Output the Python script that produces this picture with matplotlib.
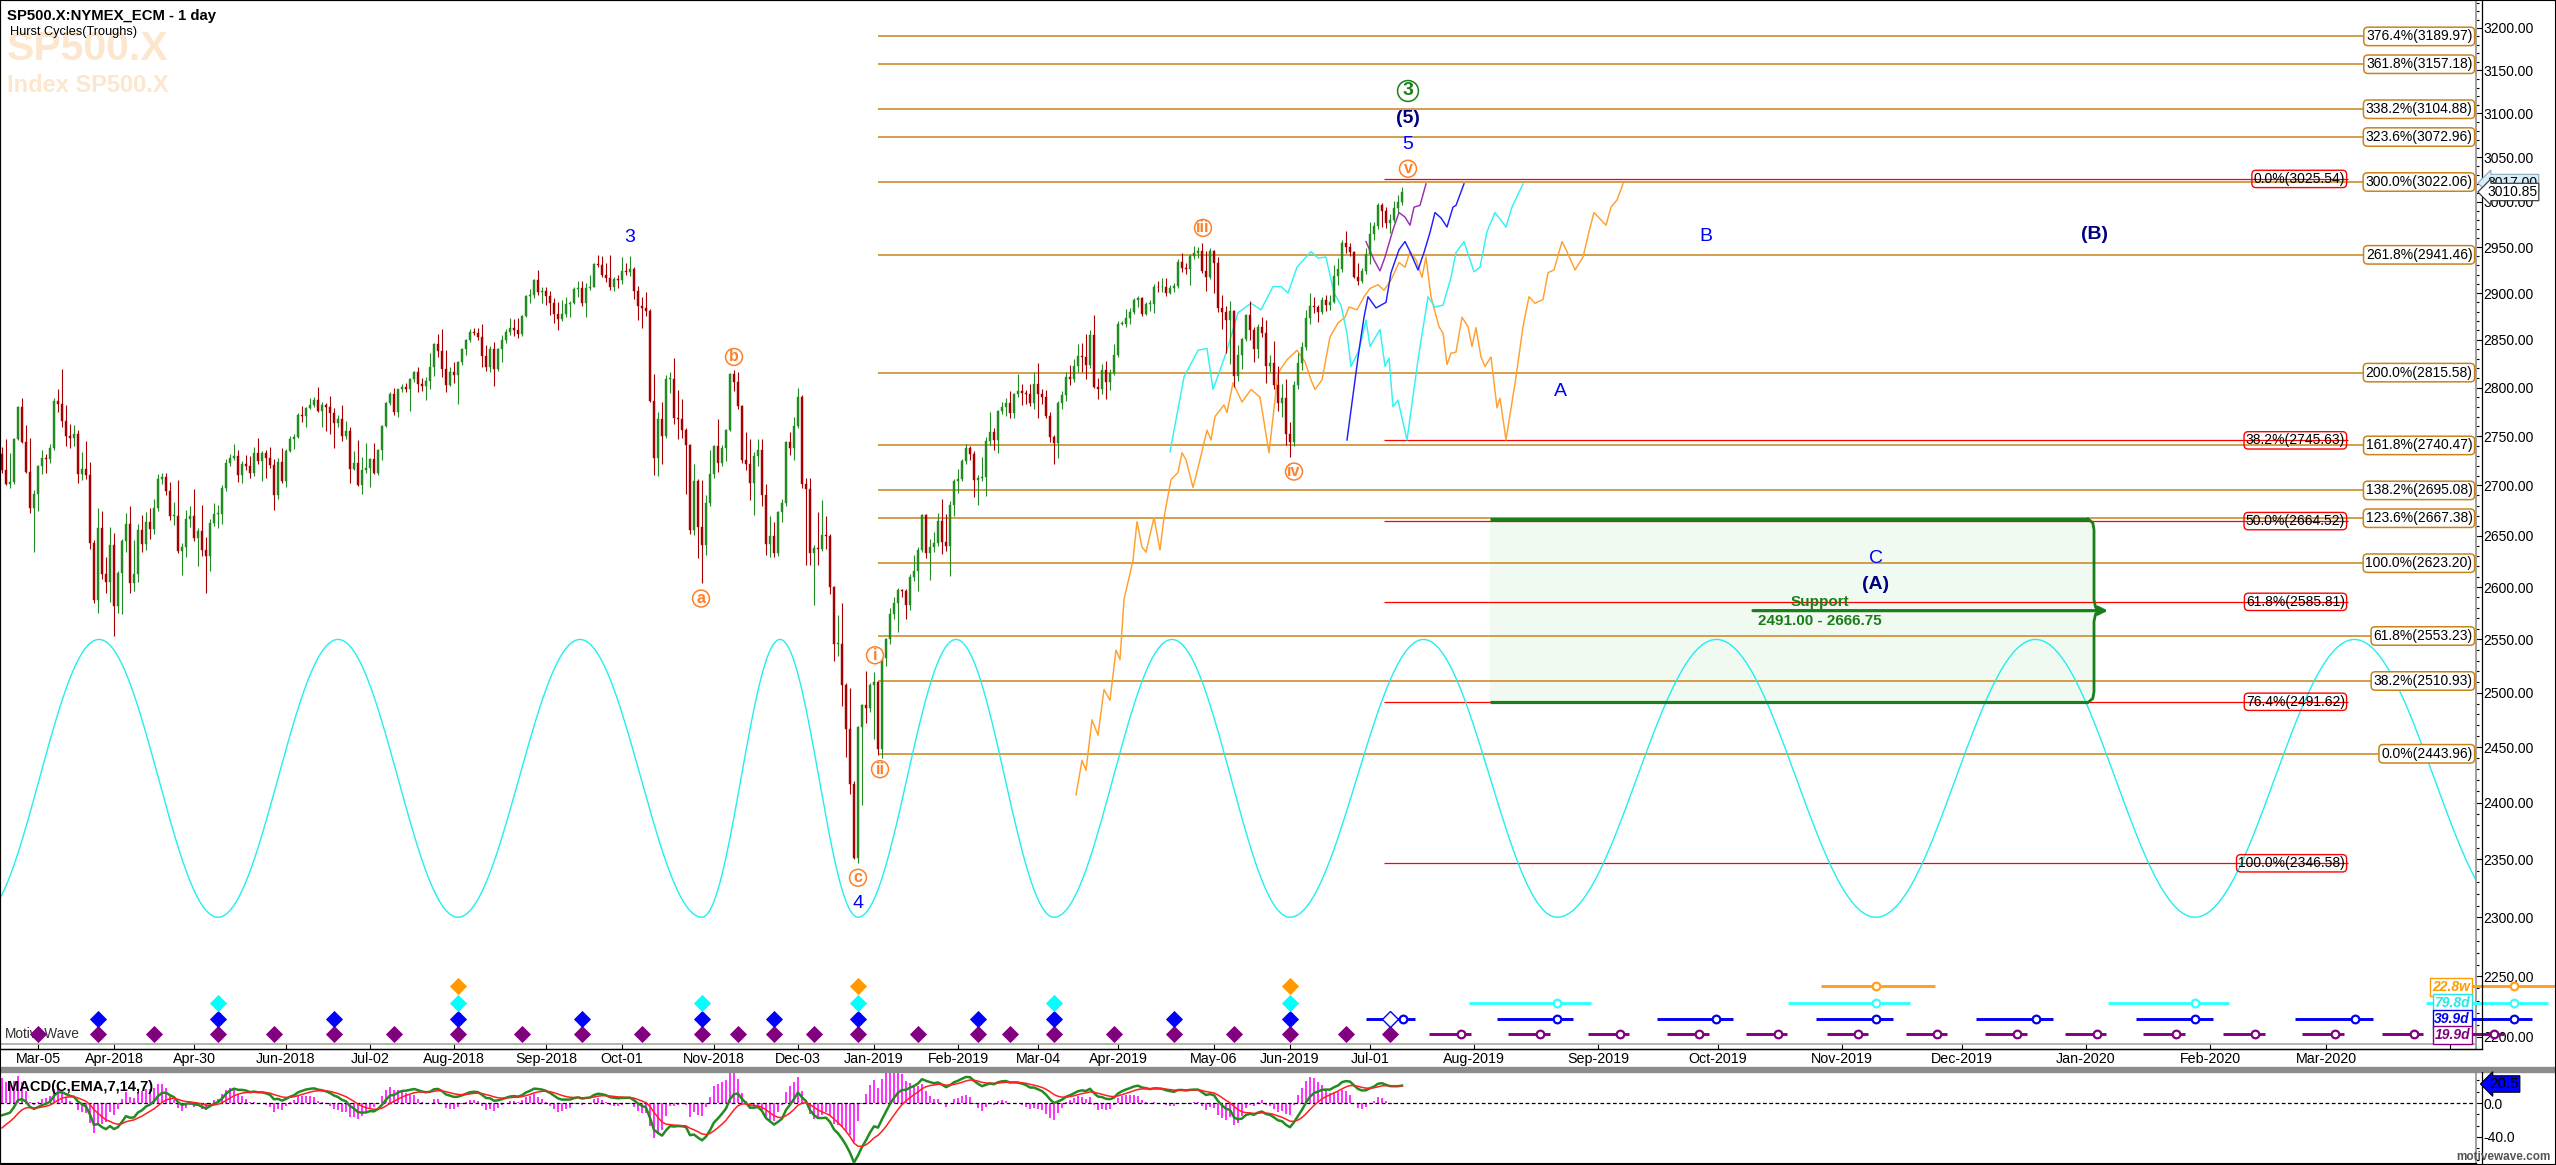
import numpy as np
import pandas as pd
import matplotlib
matplotlib.use("Agg")
import matplotlib.pyplot as plt
from matplotlib import font_manager
from matplotlib.patches import Rectangle
from matplotlib.lines import Line2D
from matplotlib.ticker import FixedLocator, FuncFormatter, NullFormatter
import matplotlib.transforms as mtrans

names = {f.name for f in font_manager.fontManager.ttflist}
BASE = 'Liberation Sans' if 'Liberation Sans' in names else 'DejaVu Sans'
NARROW = 'Liberation Sans Narrow' if 'Liberation Sans Narrow' in names else BASE
plt.rcParams['font.family'] = BASE

# ---------------- data ----------------
holidays = ['2018-03-30', '2018-05-28', '2018-07-04', '2018-09-03', '2018-11-22', '2018-12-05',
            '2018-12-25', '2019-01-01', '2019-01-21', '2019-02-18', '2019-04-19', '2019-05-27',
            '2019-07-04']
first_open = 2732
warmup_closes = [2872, 2853, 2822, 2824, 2822, 2762, 2649, 2695, 2682, 2581, 2620, 2656, 2662, 2698, 2731, 2732]

closes = [
    2716, 2701, 2703, 2747, 2780, 2744, 2714,
    2678, 2691, 2720, 2728, 2727, 2738, 2786, 2783, 2765, 2750, 2748, 2752, 2712, 2717, 2711, 2643, 2588, 2658, 2613, 2605, 2641,
    2582, 2614, 2645, 2662, 2604, 2613, 2656, 2642, 2664, 2657, 2678, 2707, 2709, 2694, 2670, 2670, 2635, 2639, 2667, 2670, 2648,
    2655, 2636, 2630, 2663, 2672, 2672, 2697, 2723, 2728, 2730, 2711, 2722, 2720, 2713, 2733, 2725, 2733, 2728, 2721, 2690, 2724, 2705,
    2735, 2747, 2749, 2772, 2771, 2779, 2782, 2787, 2776, 2782, 2780, 2774, 2763, 2767, 2750, 2755, 2717, 2723, 2700, 2716, 2718,
    2727, 2713, 2736, 2760, 2784, 2793, 2775, 2798, 2801, 2798, 2809, 2816, 2804, 2802, 2807, 2821, 2846, 2838, 2819, 2803, 2816,
    2813, 2827, 2840, 2850, 2858, 2857, 2853, 2833, 2821, 2840, 2819, 2840, 2850, 2858, 2863, 2861, 2856, 2875, 2897, 2898, 2914, 2901, 2902,
    2897, 2889, 2878, 2872, 2878, 2888, 2889, 2904, 2905, 2889, 2905, 2907, 2931, 2930, 2920, 2916, 2906, 2915, 2914,
    2924, 2923, 2926, 2902, 2886, 2884, 2881, 2786, 2728, 2767, 2750, 2809, 2809, 2769, 2768, 2756, 2741, 2656, 2705, 2659, 2641, 2682, 2712,
    2740, 2723, 2738, 2756, 2814, 2806, 2781, 2726, 2722, 2702, 2730, 2736, 2690, 2642, 2650, 2633, 2674, 2682, 2744, 2738, 2760,
    2790, 2701, 2696, 2633, 2638, 2637, 2651, 2650, 2600, 2546, 2546, 2507, 2467, 2417, 2351, 2468, 2489, 2486, 2507,
    2510, 2448, 2532, 2550, 2574, 2585, 2597, 2596, 2583, 2610, 2616, 2636, 2671, 2633, 2639, 2643, 2665, 2644, 2640, 2681, 2704,
    2707, 2725, 2738, 2732, 2706, 2708, 2709, 2745, 2754, 2746, 2776, 2780, 2784, 2774, 2793, 2796, 2794, 2793, 2784,
    2804, 2793, 2790, 2771, 2749, 2743, 2784, 2792, 2811, 2809, 2822, 2833, 2832, 2824, 2855, 2801, 2798, 2818, 2806, 2815, 2834,
    2867, 2867, 2873, 2880, 2893, 2895, 2878, 2888, 2888, 2907, 2906, 2907, 2900, 2905, 2908, 2934, 2927, 2926, 2940, 2943, 2946,
    2924, 2917, 2946, 2932, 2884, 2880, 2871, 2881, 2812, 2834, 2851, 2876, 2860, 2840, 2864, 2857, 2822, 2826, 2803, 2784, 2789, 2752,
    2744, 2803, 2826, 2843, 2873, 2886, 2885, 2880, 2892, 2887, 2890, 2918, 2926, 2954, 2950, 2945, 2917, 2913, 2924, 2942,
    2964, 2973, 2996, 2990, 2976, 2980, 2993, 3000, 3010.85,
]
wick_up = [
    7, 31, 30, 1, 1, 9, 17,
    34, 4, 1, 8, 4, 4, 3, 13, 36, 17, 12, 9, 4, 17, 28, 13, 3, 20, 17, 16, 18,
    12, 2, 2, 11, 18, 33, 6, 15, 10, 14, 8, 5, 4, 4, 9, 13, 36, 4, 9, 10, 26,
    3, 26, 13, 4, 10, 9, 3, 4, 4, 12, 6, 3, 9, 10, 6, 15, 2, 3, 11, 6, 4, 14,
    2, 3, 3, 2, 9, 1, 7, 3, 14, 3, 2, 11, 5, 5, 15, 10, 4, 12, 23, 13, 25,
    1, 16, 1, 1, 1, 2, 7, 1, 3, 4, 1, 1, 5, 6, 4, 15, 1, 10, 24, 20, 5,
    11, 1, 1, 1, 4, 5, 6, 14, 12, 4, 8, 1, 5, 4, 10, 9, 12, 1, 1, 6, 1, 11, 4,
    5, 5, 6, 12, 14, 8, 2, 2, 8, 8, 6, 12, 1, 10, 10, 13, 25, 2, 5,
    15, 8, 14, 2, 6, 10, 17, 2, 28, 8, 18, 4, 7, 22, 28, 20, 2, 1, 17, 2, 47, 8, 24,
    1, 27, 3, 1, 1, 4, 10, 1, 28, 25, 4, 11, 11, 11, 20, 14, 1, 4, 1, 10, 10,
    10, 2, 7, 12, 3, 36, 34, 19, 2, 1, 27, 39, 2, 37, 2, 1, 1, 31, 2,
    9, 1, 1, 1, 6, 5, 2, 1, 2, 3, 15, 3, 1, 1, 8, 11, 8, 21, 28, 3, 3,
    10, 2, 4, 2, 3, 3, 20, 4, 21, 4, 1, 5, 5, 12, 1, 18, 8, 3, 11,
    12, 22, 6, 7, 4, 2, 2, 4, 5, 13, 8, 13, 14, 24, 5, 21, 9, 7, 10, 4, 12,
    3, 3, 10, 4, 2, 2, 1, 2, 5, 3, 6, 9, 9, 4, 3, 3, 9, 6, 2, 8, 4,
    8, 22, 3, 1, 7, 14, 6, 10, 1, 11, 1, 1, 15, 4, 3, 10, 14, 8, 23, 20, 15, 20,
    12, 4, 10, 5, 9, 14, 10, 2, 4, 6, 8, 12, 12, 4, 14, 4, 1, 15, 3, 7,
    13, 5, 3, 3, 4, 6, 8, 7, 6,
]
wick_dn = [
    3, 1, 4, 2, 1, 1, 1,
    5, 44, 16, 8, 14, 4, 2, 8, 6, 10, 10, 8, 10, 6, 4, 6, 3, 13, 5, 11, 19,
    29, 7, 40, 11, 10, 8, 8, 8, 6, 10, 5, 3, 6, 4, 4, 9, 2, 23, 10, 8, 3,
    28, 6, 36, 14, 3, 14, 10, 3, 3, 2, 8, 9, 4, 5, 3, 3, 21, 20, 3, 14, 4, 3,
    7, 1, 10, 1, 7, 12, 1, 2, 1, 17, 25, 22, 25, 4, 5, 3, 15, 1, 1, 9, 3,
    20, 1, 2, 10, 1, 2, 3, 5, 3, 3, 22, 3, 9, 6, 15, 8, 9, 6, 8, 8, 1,
    8, 30, 3, 6, 2, 2, 3, 12, 4, 5, 17, 2, 13, 3, 3, 7, 4, 2, 1, 8, 3, 3, 12,
    10, 13, 10, 12, 2, 4, 14, 1, 8, 3, 15, 2, 1, 2, 3, 4, 3, 4, 9,
    4, 4, 5, 8, 15, 21, 6, 1, 17, 18, 28, 2, 15, 7, 21, 8, 50, 4, 5, 31, 37, 10, 2,
    4, 9, 3, 13, 1, 10, 3, 3, 6, 17, 31, 10, 10, 11, 13, 4, 3, 10, 2, 7, 12,
    2, 4, 75, 12, 50, 16, 2, 13, 7, 16, 12, 19, 26, 9, 1, 4, 70, 14, 4,
    50, 5, 8, 7, 4, 5, 28, 6, 14, 5, 4, 20, 2, 5, 26, 5, 3, 12, 5, 29, 11,
    12, 2, 3, 6, 18, 25, 4, 20, 4, 10, 13, 3, 9, 5, 5, 3, 12, 10, 3,
    6, 24, 7, 2, 5, 21, 15, 6, 6, 6, 3, 6, 16, 15, 4, 1, 10, 5, 18, 9, 2,
    2, 1, 3, 6, 2, 8, 3, 2, 7, 9, 5, 5, 3, 1, 4, 3, 4, 5, 17, 3, 5,
    2, 15, 2, 32, 4, 18, 35, 46, 11, 5, 15, 2, 10, 13, 9, 4, 17, 6, 5, 8, 14, 11,
    15, 4, 4, 8, 4, 6, 6, 11, 2, 6, 5, 1, 9, 3, 7, 5, 1, 4, 2, 3,
    11, 6, 3, 18, 5, 11, 2, 4, 4,
]

fib_orange_pct = ['376.4%', '361.8%', '338.2%', '323.6%', '300.0%', '261.8%', '200.0%',
                  '161.8%', '138.2%', '123.6%', '100.0%', '61.8%', '38.2%', '0.0%']
fib_orange_val = [3189.97, 3157.18, 3104.88, 3072.96, 3022.06, 2941.46, 2815.58,
                  2740.47, 2695.08, 2667.38, 2623.20, 2553.23, 2510.93, 2443.96]
fib_orange_from = 219
fib_red_pct = ['0.0%', '38.2%', '50.0%', '61.8%', '76.4%', '100.0%']
fib_red_val = [3025.54, 2745.63, 2664.52, 2585.81, 2491.62, 2346.58]
fib_red_from = 345.5

support_lo, support_hi = 2491.00, 2666.75
support_from, support_to = 372, 523
support_arrow = (437.75, 526.5)

# Hurst cycle (cyan) trough positions and band
cyan_troughs = [-5.5, 54, 114, 175, 214, 263, 322, 388.75, 468.5, 548.25, 628]
cycle_low, cycle_high = 2300, 2550

# projection paths (bar position, price)
proj_orange = [(268.5, 2407), (270, 2438), (271, 2429), (272.5, 2475), (274, 2461), (275.5, 2503), (277, 2493),
               (278.5, 2540), (279.5, 2531), (280.5, 2588), (282.75, 2626), (283.75, 2664), (285, 2639), (286, 2634),
               (288, 2668), (289.5, 2636), (290.5, 2668), (292.25, 2706), (294, 2713), (295, 2733), (296, 2726),
               (297.75, 2698), (299.5, 2726), (301.25, 2756), (302.25, 2746), (303.25, 2770), (305.5, 2782),
               (306.25, 2774), (307.75, 2805), (310, 2785), (312.25, 2798), (314.5, 2790), (316.75, 2733), (319, 2815),
               (321.25, 2829), (323.75, 2839), (325.75, 2827), (327.25, 2808), (328.25, 2798), (330, 2808), (332, 2853),
               (334, 2868), (335.75, 2874), (336.75, 2885), (338.75, 2882), (340.5, 2896), (342, 2905), (344, 2909),
               (345.5, 2903), (347.25, 2914), (349.25, 2933), (350.75, 2928), (352, 2945), (353.5, 2936), (355, 2917),
               (356, 2939), (357.25, 2896), (359.25, 2864), (360.25, 2857), (361.25, 2824), (362.25, 2836),
               (363.5, 2837), (365, 2874), (366.5, 2864), (367.5, 2843), (368.5, 2863), (369.75, 2832), (370.75, 2822),
               (372.25, 2832), (373.75, 2779), (374.5, 2789), (376, 2746), (378.5, 2811), (380.25, 2864),
               (381.75, 2896), (383.25, 2889), (385.25, 2893), (386.5, 2922), (388, 2925), (390, 2956), (391.25, 2945),
               (393.25, 2925), (395.25, 2939), (396.75, 2967), (398, 2988), (401, 2974), (402.25, 2994),
               (403.75, 3002), (405.25, 3020)]
proj_cyan = [(292, 2734), (295.5, 2811), (299, 2839), (301.25, 2841), (302.75, 2798), (304.5, 2818), (306.25, 2839),
             (309, 2879), (312.25, 2889), (314.75, 2882), (317.75, 2907), (319.75, 2907), (321.5, 2900), (323.75, 2928),
             (327.25, 2945), (329, 2938), (331, 2939), (333, 2900), (334.75, 2887), (336.25, 2857), (337.25, 2822),
             (339.25, 2839), (341, 2871), (342, 2843), (344.5, 2861), (345.75, 2822), (346.75, 2831), (347.75, 2780),
             (349, 2787), (351.25, 2746), (354, 2829), (356.5, 2896), (358.25, 2885), (360.25, 2887), (362.25, 2917),
             (363.5, 2944), (365.5, 2956), (368, 2923), (369.5, 2928), (371.25, 2967), (373.25, 2988), (376, 2972),
             (377.5, 2994), (380.25, 3020)]
proj_blue = [(336.25, 2746), (339.25, 2839), (340.5, 2874), (341.5, 2896), (343.5, 2884), (346, 2890), (347.25, 2922),
             (349.25, 2947), (350.75, 2956), (352, 2945), (354, 2925), (355.5, 2944), (357, 2966), (358.25, 2988),
             (359.75, 2982), (361.25, 2972), (362.75, 2994), (363.5, 2996), (365.5, 3020)]
proj_purple = [(341, 2956), (343, 2936), (344.5, 2924), (345.75, 2939), (347.75, 2969), (349.25, 2988),
               (350.75, 2983), (352, 2974), (353, 2994), (354.5, 2996), (356, 3020)]

# cycle trough markers (bar positions)
dia_purple = [9, 24, 38, 54, 68, 83, 98, 114, 130, 145, 160, 175, 184, 193, 203, 214, 229, 244, 252, 263,
              278, 293, 308, 322, 336, 347]
dia_blue = [24, 54, 83, 114, 145, 175, 193, 214, 244, 263, 293, 322]
dia_blue_open = [347]
dia_cyan = [54, 114, 175, 214, 263, 322]
dia_orange = [114, 214, 322]

# projected trough windows (start, expected, end)
cyc_purple = [(356.75, 364.75, 367.25), (376.5, 384.5, 387), (396.5, 404.5, 406.75), (416.25, 424.25, 426.75),
              (436, 444, 446.25), (456.25, 464, 466.5), (476, 483.75, 486.25), (495.75, 503.75, 506.25),
              (515.75, 523.75, 526), (535.25, 543.5, 545.75), (555.25, 563.25, 565.75), (575, 583.25, 585.5),
              (595, 603, 605.25), (615, 623, 625.5)]
cyc_blue = [(341, 350.25, 353.25), (373.75, 388.75, 392.75), (413.75, 428.5, 432.75), (453.5, 468.5, 472.75),
            (493.5, 508.5, 512.75), (533.5, 548.25, 552.75), (573.25, 588.25, 592.75), (613, 628, 632.5)]
cyc_cyan = [(366.75, 388.75, 397.25), (446.5, 468.5, 477), (526.5, 548.25, 556.75), (606, 628, 636.5)]
cyc_orange = [(454.75, 468.5, 483.25), (614, 628, 642)]
cycle_names = ['22.8w', '79.8d', '39.9d', '19.9d']

wave_labels = [
    ('3', 157, 2960, 'blue'), ('a', 174.75, 2589, 'oc'), ('b', 183, 2832, 'oc'),
    ('c', 214, 2334, 'oc'), ('4', 214, 2312, 'blue'), ('i', 218.25, 2535, 'oc'),
    ('ii', 219.5, 2430, 'oc'), ('iii', 300.25, 2971, 'oc'), ('iv', 323, 2714, 'oc'),
    ('v', 351.5, 3037, 'oc'), ('5', 351.5, 3064, 'blue'), ('(5)', 351.5, 3094, 'navy'),
    ('3', 351.5, 3126, 'gc'), ('B', 426, 2961, 'blue'), ('(B)', 523, 2964, 'navy'),
    ('A', 389.5, 2796, 'blue'), ('C', 468.5, 2628, 'blue'), ('(A)', 468.5, 2603, 'navy'),
]

tick_dates = ['2018-03-05', '2018-04-02', '2018-04-30', '2018-06-01', '2018-07-02', '2018-08-01', '2018-09-04',
              '2018-10-01', '2018-11-01', '2018-12-03', '2019-01-02', '2019-02-01', '2019-03-04', '2019-04-01',
              '2019-05-06', '2019-06-03', '2019-07-01', '2019-08-01', '2019-09-01', '2019-10-01', '2019-11-01',
              '2019-12-01', '2020-01-01', '2020-02-01', '2020-03-01', '2020-04-01']
tick_labels = ['Mar-05', 'Apr-2018', 'Apr-30', 'Jun-2018', 'Jul-02', 'Aug-2018', 'Sep-2018', 'Oct-01',
               'Nov-2018', 'Dec-03', 'Jan-2019', 'Feb-2019', 'Mar-04', 'Apr-2019', 'May-06', 'Jun-2019',
               'Jul-01', 'Aug-2019', 'Sep-2019', 'Oct-2019', 'Nov-2019', 'Dec-2019', 'Jan-2020', 'Feb-2020',
               'Mar-2020', '']

# ---------------- colours ----------------
C_UP, C_DN = '#228B22', '#A80000'
FIB_OR = '#C8841C'
RED = '#FF0000'
W_OR = '#FF7F27'
GREEN = '#1A7F1A'
NAVY = '#000080'
BLUE = '#0000FF'
CYAN = '#22EEEE'
PROJ_OR = '#FFA030'
PURPLE = '#800080'
CYC_OR = '#FF9A00'

# ---------------- build series ----------------
dates = pd.bdate_range('2018-02-20', '2019-07-12')
dates = dates[~dates.isin(pd.to_datetime(holidays))]
n = min(len(dates), len(closes), len(wick_up), len(wick_dn))
dates = dates[:n]
c = np.array(closes[:n], float)
o = np.r_[first_open, c[:-1]]
hi = np.maximum(o, c) + np.array(wick_up[:n])
lo = np.minimum(o, c) - np.array(wick_dn[:n])
x = np.arange(n)
future_base = pd.Timestamp('2019-07-14')


def xpos(d):
    d = pd.Timestamp(d)
    if d <= dates[-1]:
        return int(dates.searchsorted(d))
    return (n - 1) + (d - future_base).days


W, H = 2556, 1165
XL = (-0.5, 618.5)


def fx(px):
    return px / W


def fy(py):
    return 1 - py / H


def px2x(px):
    return (px - 2) / 4.0


fig = plt.figure(figsize=(W / 100, H / 100), dpi=100)
fig.patch.set_facecolor('white')
ax = fig.add_axes([0, fy(1049), fx(2476), 1049 / H])
ax2 = fig.add_axes([0, fy(1163), fx(2476), 91 / H])

ax.set_yscale('log')
ax.set_xlim(*XL)
ax.set_ylim(2190.2, 3233.4)

# watermark + titles
ax.text(fx(7), fy(60), 'SP500.X', transform=fig.transFigure, fontsize=29.5, weight='bold',
        color='#FDE6CE', ha='left', va='baseline', zorder=0)
ax.text(fx(7), fy(92), 'Index SP500.X', transform=fig.transFigure, fontsize=17, weight='bold',
        color='#FDE6CE', ha='left', va='baseline', zorder=0)
fig.text(fx(7), fy(20), 'SP500.X:NYMEX_ECM - 1 day', fontsize=10.7, weight='bold', ha='left', va='baseline')
fig.text(fx(10), fy(35), 'Hurst Cycles(Troughs)', fontsize=9.2, ha='left', va='baseline')

# support box
ax.add_patch(Rectangle((support_from, support_lo), support_to - support_from, support_hi - support_lo,
                       facecolor='#F0FAF0', edgecolor='none', zorder=0.5))
ax.hlines([support_hi, support_lo], support_from, support_to - 1.5, color=GREEN, lw=2.3, zorder=2.5)
mid = np.sqrt(support_lo * support_hi)
bx = [support_to - 1.5, support_to - 0.3, support_to, support_to, support_to + 0.4, support_to + 1.8,
      support_to + 0.4, support_to, support_to, support_to - 0.3, support_to - 1.5]
by = [support_hi, support_hi * 0.9985, support_hi * 0.996, mid * 1.004, mid * 1.0012, mid,
      mid / 1.0012, mid / 1.004, support_lo * 1.004, support_lo * 1.0015, support_lo]
ax.plot(bx, by, color=GREEN, lw=2.0, zorder=2.5, solid_joinstyle='round')
ax.annotate('', xy=(support_arrow[1], mid), xytext=(support_arrow[0], mid),
            arrowprops=dict(arrowstyle='-|>', color=GREEN, lw=2.3, mutation_scale=13, shrinkA=0, shrinkB=0),
            zorder=3)
ax.text(454.5, 2586, 'Support', color=GREEN, fontsize=11, weight='bold', ha='center', va='center', zorder=4)
ax.text(454.5, 2567.5, f'{support_lo:.2f} - {support_hi:.2f}', color=GREEN, fontsize=11, weight='bold',
        ha='center', va='center', zorder=4)

# fib lines
for pct, val in zip(fib_orange_pct, fib_orange_val):
    ax.hlines(val, fib_orange_from, XL[1], color=FIB_OR, lw=1.1, zorder=1)
    ax.annotate(f'{pct}({val:.2f})', xy=(1, val), xycoords=('axes fraction', 'data'), xytext=(-2.6, 0),
                textcoords='offset points', ha='right', va='center', fontsize=10, zorder=7,
                annotation_clip=False,
                bbox=dict(boxstyle='round,pad=0.16,rounding_size=0.3', fc='white', ec=FIB_OR, lw=1.1))
red_end = px2x(2348)
red_fs = 11.5 if NARROW != BASE else 10
for pct, val in zip(fib_red_pct, fib_red_val):
    ax.hlines(val, fib_red_from, red_end, color=RED, lw=0.9, zorder=2)
    ax.annotate(f'{pct}({val:.2f})', xy=(red_end, val), xycoords='data', xytext=(-2.2, 0),
                textcoords='offset points', ha='right', va='center', fontsize=red_fs, family=NARROW,
                zorder=7, annotation_clip=False,
                bbox=dict(boxstyle='round,pad=0.12,rounding_size=0.3', fc='none', ec=RED, lw=1.0))

# cyan hurst wave
lo_l, hi_l = np.log(cycle_low), np.log(cycle_high)
wx, wy = [], []
for t0, t1 in zip(cyan_troughs[:-1], cyan_troughs[1:]):
    tt = np.linspace(t0, t1, 80)
    ph = (tt - t0) / (t1 - t0)
    wx.append(tt)
    wy.append(np.exp(lo_l + (hi_l - lo_l) * (1 - np.cos(2 * np.pi * ph)) / 2))
ax.plot(np.concatenate(wx), np.concatenate(wy), color=CYAN, lw=1.0, zorder=2)

# projections
for path, col in [(proj_orange, PROJ_OR), (proj_cyan, '#33F2F2'), (proj_blue, '#2020FF'), (proj_purple, '#9A30B0')]:
    px_, py_ = zip(*path)
    ax.plot(px_, py_, color=col, lw=1.05, zorder=2.2)

# candles
cols = np.where(c >= o, C_UP, C_DN)
ax.vlines(x, lo, hi, colors=cols, lw=0.8, zorder=3)
ax.bar(x, np.maximum(np.abs(c - o), 0.8), bottom=np.minimum(o, c), width=0.7, color=cols,
       edgecolor=cols, lw=0.3, zorder=4)

# wave labels
for txt, xi, pr, kind in wave_labels:
    if kind == 'oc':
        ax.text(xi, pr, txt, color=W_OR, fontsize=11.5, weight='bold', ha='center', va='center', zorder=8,
                bbox=dict(boxstyle='circle,pad=0.06', fc='white', ec=W_OR, lw=1.1))
    elif kind == 'gc':
        ax.text(xi, pr, txt, color=GREEN, fontsize=14, weight='bold', ha='center', va='center', zorder=8,
                bbox=dict(boxstyle='circle,pad=0.1', fc='white', ec=GREEN, lw=1.1))
    elif kind == 'blue':
        ax.text(xi, pr, txt, color=BLUE, fontsize=14, ha='center', va='center', zorder=8)
    else:
        ax.text(xi, pr, txt, color=NAVY, fontsize=14, weight='bold', ha='center', va='center', zorder=8)

# trough markers and projected windows
blend = mtrans.blended_transform_factory(ax.transData, ax.transAxes)
ROW = {'orange': (1049 - 986) / 1049, 'cyan': (1049 - 1002.5) / 1049,
       'blue': (1049 - 1018.5) / 1049, 'purple': (1049 - 1034) / 1049}
ax.text(px2x(5), ROW['purple'], 'MotiveWave', transform=blend, fontsize=9.8, color='#303030',
        ha='left', va='center', zorder=4)
for pos, col, row in [(dia_purple, PURPLE, 'purple'), (dia_blue, BLUE, 'blue'),
                      (dia_cyan, '#00FFFF', 'cyan'), (dia_orange, CYC_OR, 'orange')]:
    ax.plot(pos, [ROW[row]] * len(pos), 'D', ms=8, mfc=col, mec=col, mew=0.6, transform=blend, zorder=5,
            ls='none')
ax.plot(dia_blue_open, [ROW['blue']], 'D', ms=8, mfc='white', mec=BLUE, mew=1.0, transform=blend, zorder=6,
        ls='none')
for segs, col, row in [(cyc_orange, '#FFA020', 'orange'), (cyc_cyan, '#33FFFF', 'cyan'),
                       (cyc_blue, '#0000EE', 'blue'), (cyc_purple, PURPLE, 'purple')]:
    for s, m, e in segs:
        ax.plot([s, e], [ROW[row]] * 2, color=col, lw=2.1, transform=blend, clip_on=False, zorder=5,
                solid_capstyle='butt')
        ax.plot([m], [ROW[row]], 'o', ms=5.5, mfc='white', mec=col, mew=1.6, transform=blend,
                clip_on=False, zorder=6)
ax.plot([0, 1], [5 / 1049] * 2, transform=ax.transAxes, color='#A8A8A0', lw=1.2, zorder=2)

# axes styling main
for s in ['left', 'top', 'bottom']:
    ax.spines[s].set_color('black')
ax.spines['right'].set_color('#A0A0A0')
ax.spines['right'].set_linewidth(1.4)
ax.yaxis.tick_right()
ax.yaxis.set_major_locator(FixedLocator(np.arange(2200, 3201, 50)))
ax.yaxis.set_major_formatter(FuncFormatter(lambda v, p: f'{v:.2f}'))
ax.yaxis.set_minor_locator(FixedLocator(np.arange(2190, 3231, 10)))
ax.yaxis.set_minor_formatter(NullFormatter())
ax.tick_params(axis='y', which='major', length=4.3, width=0.8, direction='out', pad=1.2, labelsize=10)
ax.tick_params(axis='y', which='minor', length=2.2, width=0.8, direction='out')
ax.set_xticks([xpos(d) for d in tick_dates])
ax.set_xticklabels(tick_labels)
ax.tick_params(axis='x', which='both', direction='in', length=3.6, width=0.8, pad=2.0, labelsize=10.3)
ax.xaxis.set_minor_locator(FixedLocator([]))

# MACD
allc = pd.Series(list(warmup_closes) + list(c))
macd = allc.ewm(span=7, adjust=False).mean() - allc.ewm(span=14, adjust=False).mean()
sig = macd.ewm(span=7, adjust=False).mean()
k = len(warmup_closes)
macd_v = macd.values[k:]
sig_v = sig.values[k:]
hist_v = 2 * (macd_v - sig_v)
ax2.set_xlim(*XL)
ax2.set_ylim(-70.6, 36.5)
ax2.bar(x, hist_v, width=0.5, color='#FF33FF', zorder=1)
ax2.axhline(0, color='black', lw=0.9, ls=(0, (3, 2)), zorder=1.5)
ax2.plot(x, macd_v, color=C_UP, lw=1.8, zorder=3)
ax2.plot(x, sig_v, color='#FF2020', lw=1.1, zorder=3)
ax2.spines['top'].set_visible(False)
ax2.spines['right'].set_color('#A0A0A0')
ax2.spines['right'].set_linewidth(1.4)
ax2.set_xticks([])
ax2.yaxis.tick_right()
ax2.yaxis.set_major_locator(FixedLocator([-40, 0, 40]))
ax2.yaxis.set_major_formatter(FuncFormatter(lambda v, p: f'{v:.1f}'))
ax2.yaxis.set_minor_locator(FixedLocator(np.arange(-80, 41, 40 / 3)))
ax2.tick_params(axis='y', which='major', length=4.3, width=0.8, direction='out', pad=1.2, labelsize=10)
ax2.tick_params(axis='y', which='minor', length=2.2, width=0.8, direction='out')
fig.text(fx(7), fy(1087), 'MACD(C,EMA,7,14,7)', fontsize=10.5, weight='bold', ha='left', va='center')

# frame decorations
fig.add_artist(Rectangle((0, fy(1071.5)), 1, 4.5 / H, transform=fig.transFigure, color='#8C8C8C', zorder=1))
fig.add_artist(Line2D([fx(2482)] * 2, [fy(0), fy(1049)], transform=fig.transFigure, color='black', lw=0.9))
fig.add_artist(Line2D([fx(2482)] * 2, [fy(1072), fy(1164)], transform=fig.transFigure, color='black', lw=0.9))
fig.add_artist(Line2D([0, fx(2482)], [fy(1049)] * 2, transform=fig.transFigure, color='black', lw=1.0))
fig.add_artist(Rectangle((0, 0), 1, 1, transform=fig.transFigure, fill=False, ec='black', lw=1.5))

# cycle legend boxes
for name, col, row, py in [(cycle_names[0], '#FF9A00', 'orange', 987), (cycle_names[1], '#22E8E8', 'cyan', 1003),
                           (cycle_names[2], '#0000EE', 'blue', 1019), (cycle_names[3], PURPLE, 'purple', 1035)]:
    fig.text(fx(2470), fy(py), name, color=col, fontsize=10, weight='bold', style='italic', ha='right',
             va='center', zorder=10,
             bbox=dict(boxstyle='square,pad=0.12', fc='white', ec=col, lw=1.0))

# price & macd value tags
fig.text(fx(2487), fy(183), '3017.00', fontsize=10, ha='left', va='center', zorder=10,
         bbox=dict(boxstyle='larrow,pad=0.12', fc='#D6EEFA', ec='#8FA8B8', lw=0.8))
fig.text(fx(2487), fy(192), f'{c[-1]:.2f}', fontsize=10, ha='left', va='center', zorder=11,
         bbox=dict(boxstyle='larrow,pad=0.12', fc='white', ec='#404040', lw=0.9))
fig.text(fx(2489), fy(1084), f'{macd_v[-1]:.1f}', fontsize=11, ha='left', va='center', zorder=11,
         bbox=dict(boxstyle='larrow,pad=0.08', fc='#0000FF', ec='black', lw=0.8))
fig.text(fx(2551), fy(1157), 'motivewave.com', fontsize=8.5, weight='bold', color='#555555',
         ha='right', va='center')

fig.savefig('out.png', dpi=100)
